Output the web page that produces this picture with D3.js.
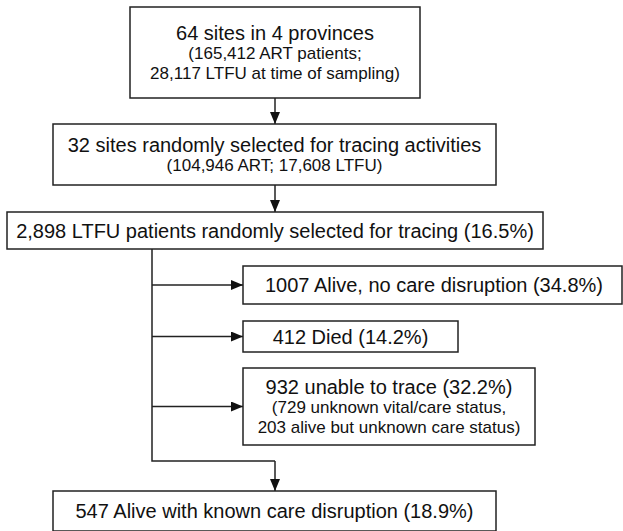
<!DOCTYPE html>
<html>

<head>
    <meta charset="UTF-8">
    <script src="https://d3js.org/d3.v7.min.js"></script>
    <style>
        body {
            margin: 0;
            background: #fff;
        }

        .box {
            fill: #fff;
            stroke: #222;
            stroke-width: 1.5px;
        }

        .link {
            fill: none;
            stroke: #222;
            stroke-width: 1.5px;
        }

        text {
            font-family: "Liberation Sans", Arial, sans-serif;
            fill: #111;
        }
    </style>
</head>

<body>
    <svg width="623" height="531"></svg>

    <script>
        // box contents: first line is the headline, the rest are sub lines
        let ids = ["sites", "selected", "ltfu", "alive", "died", "untraced", "disrupted"];
        let mainLines = [
            "64 sites in 4 provinces",
            "32 sites randomly selected for tracing activities",
            "2,898 LTFU patients randomly selected for tracing (16.5%)",
            "1007 Alive, no care disruption (34.8%)",
            "412 Died (14.2%)",
            "932 unable to trace (32.2%)",
            "547 Alive with known care disruption (18.9%)"
        ];
        let subLines = [
            ["(165,412 ART patients;", "28,117 LTFU at time of sampling)"],
            ["(104,946 ART; 17,608 LTFU)"],
            [],
            [],
            [],
            ["(729 unknown vital/care status,", "203 alive but unknown care status)"],
            []
        ];

        // layout (pixels)
        let layout = {
            sites: { x0: 130, x1: 420, y0: 7, y1: 98 },
            selected: { x0: 53, x1: 496, y0: 124, y1: 185 },
            ltfu: { x0: 7, x1: 543, y0: 212, y1: 249 },
            alive: { x0: 243, x1: 622, y0: 266, y1: 304, tx: 434 },
            died: { x0: 243, x1: 458, y0: 321, y1: 352 },
            untraced: { x0: 243, x1: 535, y0: 368, y1: 445 },
            disrupted: { x0: 53, x1: 496, y0: 491, y1: 531 }
        };
        let trunkX = 152, centerX = 275, elbowY = 461;

        let nodes = ids.map((id, i) => Object.assign({ id: id, main: mainLines[i], subs: subLines[i] }, layout[id]));
        let byId = {};
        nodes.forEach(d => byId[d.id] = d);
        let midY = d => (d.y0 + d.y1) / 2;

        let svg = d3.select("svg");

        svg.append("defs").append("marker")
            .attr("id", "head")
            .attr("viewBox", "0 0 12 10")
            .attr("refX", 12)
            .attr("refY", 5)
            .attr("markerUnits", "userSpaceOnUse")
            .attr("markerWidth", 13)
            .attr("markerHeight", 10)
            .attr("orient", "auto")
            .append("path")
            .attr("d", "M0,0 L12,5 L0,10 z")
            .attr("fill", "#111");

        // connectors
        let links = [
            [[centerX, byId.sites.y1], [centerX, byId.selected.y0]],
            [[centerX, byId.selected.y1], [centerX, byId.ltfu.y0]],
            [[trunkX, midY(byId.alive)], [byId.alive.x0, midY(byId.alive)]],
            [[trunkX, midY(byId.died)], [byId.died.x0, midY(byId.died)]],
            [[trunkX, midY(byId.untraced)], [byId.untraced.x0, midY(byId.untraced)]],
            [[centerX, elbowY], [centerX, byId.disrupted.y0]]
        ];

        let line = d3.line();

        // trunk with elbow (no arrow)
        svg.append("path")
            .attr("class", "link")
            .attr("d", line([[trunkX, byId.ltfu.y1], [trunkX, elbowY], [centerX, elbowY]]));

        svg.append("g")
            .selectAll("path")
            .data(links)
            .enter().append("path")
            .attr("class", "link")
            .attr("d", d => line(d))
            .attr("marker-end", "url(#head)");

        // boxes
        let box = svg.append("g")
            .selectAll("g")
            .data(nodes)
            .enter().append("g");

        box.append("rect")
            .attr("class", "box")
            .attr("x", d => d.x0)
            .attr("y", d => d.y0)
            .attr("width", d => d.x1 - d.x0)
            .attr("height", d => d.y1 - d.y0);

        let mainH = 22, subH = 20;
        box.each(function (d) {
            let g = d3.select(this);
            let cx = d.tx || (d.x0 + d.x1) / 2;
            let total = mainH + d.subs.length * subH;
            let y = midY(d) - total / 2;
            g.append("text")
                .attr("x", cx)
                .attr("y", y + mainH / 2)
                .attr("text-anchor", "middle")
                .attr("dominant-baseline", "central")
                .attr("font-size", "20px")
                .text(d.main);
            d.subs.forEach((s, i) => {
                g.append("text")
                    .attr("x", cx)
                    .attr("y", y + mainH + i * subH + subH / 2)
                    .attr("text-anchor", "middle")
                    .attr("dominant-baseline", "central")
                    .attr("font-size", "17px")
                    .text(s);
            });
        });
    </script>
</body>

</html>
